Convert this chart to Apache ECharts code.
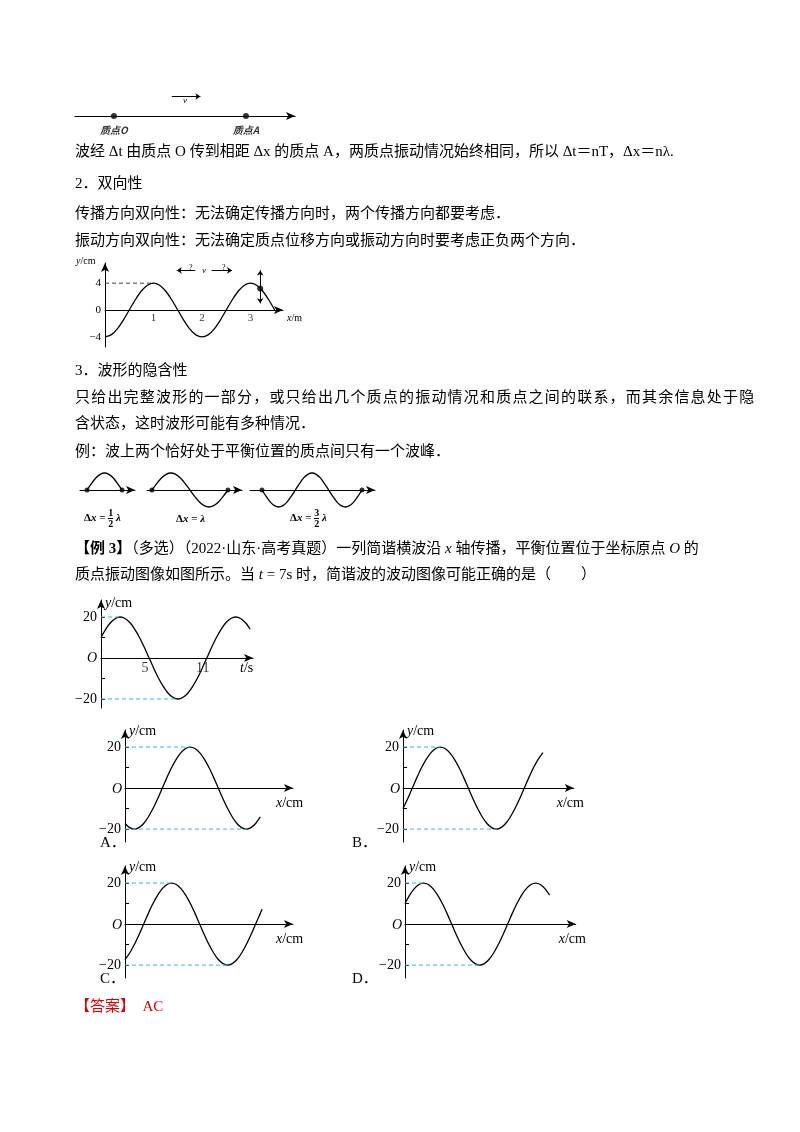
<!DOCTYPE html>
<html><head><meta charset="utf-8">
<script src="https://cdn.jsdelivr.net/npm/echarts@6/dist/echarts.min.js"></script>
<style>
body{margin:0;background:#fff}
#page{position:relative;width:800px;height:1132px;font-family:"Liberation Serif","Noto Sans CJK SC",serif;color:#000}
#chart{position:absolute;left:0;top:0;width:800px;height:1132px}
.t{position:absolute;left:75px;font-size:15px;line-height:20px;white-space:nowrap}
.fr{display:inline-block;vertical-align:middle;text-align:center;font-size:10px;line-height:10px}
.fr span{display:block}
.fr span:first-child{border-bottom:1px solid #000}
.dl{position:absolute;font-size:11px;font-weight:bold;white-space:nowrap}
</style></head>
<body><div id="page">
<div id="chart"></div>
<div class="t" style="top:141px">波经 Δt 由质点 O 传到相距 Δx 的质点 A，两质点振动情况始终相同，所以 Δt＝nT，Δx＝nλ.</div>
<div class="t" style="top:173px">2．双向性</div>
<div class="t" style="top:203px">传播方向双向性：无法确定传播方向时，两个传播方向都要考虑．</div>
<div class="t" style="top:230px">振动方向双向性：无法确定质点位移方向或振动方向时要考虑正负两个方向．</div>
<div class="t" style="top:360px">3．波形的隐含性</div>
<div class="t" style="top:387px;letter-spacing:1.2px">只给出完整波形的一部分，或只给出几个质点的振动情况和质点之间的联系，而其余信息处于隐</div>
<div class="t" style="top:413px">含状态，这时波形可能有多种情况．</div>
<div class="t" style="top:441px">例：波上两个恰好处于平衡位置的质点间只有一个波峰．</div>
<div class="dl" style="left:84px;top:508px">Δ<i>x</i> = <span class="fr"><span>1</span><span>2</span></span> <i>λ</i></div>
<div class="dl" style="left:176px;top:512px">Δ<i>x</i> = <i>λ</i></div>
<div class="dl" style="left:290px;top:508px">Δ<i>x</i> = <span class="fr"><span>3</span><span>2</span></span> <i>λ</i></div>
<div class="t" style="top:538px"><b>【例 3】</b>（多选）（2022·山东·高考真题）一列简谐横波沿 <i>x</i> 轴传播，平衡位置位于坐标原点 <i>O</i> 的</div>
<div class="t" style="top:564px">质点振动图像如图所示。当 <i>t</i> = 7s 时，简谐波的波动图像可能正确的是（　　）</div>
<div class="t" style="top:832px;left:100px">A．</div>
<div class="t" style="top:832px;left:352px">B．</div>
<div class="t" style="top:968px;left:100px">C．</div>
<div class="t" style="top:968px;left:352px">D．</div>
<div class="t" style="top:996px;color:#e00000">【答案】　AC</div>
</div>
<script>
// fig 1: propagation line
var lineDots = [[1.77, 0, '质点O'], [7.77, 0, '质点A']]
// fig 2: wave y/cm vs x/m
var waveX = [0, 0.125, 0.25, 0.375, 0.5, 0.625, 0.75, 0.875, 1, 1.125, 1.25, 1.375, 1.5, 1.625, 1.75, 1.875,
  2, 2.125, 2.25, 2.375, 2.5, 2.625, 2.75, 2.875, 3, 3.125, 3.25, 3.375, 3.5]
var waveY = [-4, -3.7, -2.83, -1.53, 0, 1.53, 2.83, 3.7, 4, 3.7, 2.83, 1.53, 0, -1.53, -2.83, -3.7,
  -4, -3.7, -2.83, -1.53, 0, 1.53, 2.83, 3.7, 4, 3.7, 2.83, 1.53, 0]
var waveDot = [3.2, 3.2]
var waveXTicks = [1, 2, 3]
// fig 3: half-wave examples
var halfX = [0, 0.125, 0.25, 0.375, 0.5, 0.625, 0.75, 0.875, 1]
var halfY = [0, 0.38, 0.71, 0.92, 1, 0.92, 0.71, 0.38, 0]
var fullX = [0, 0.125, 0.25, 0.375, 0.5, 0.625, 0.75, 0.875, 1, 1.125, 1.25, 1.375, 1.5, 1.625, 1.75, 1.875, 2]
var fullY = [0, 0.38, 0.71, 0.92, 1, 0.92, 0.71, 0.38, 0, -0.38, -0.71, -0.92, -1, -0.92, -0.71, -0.38, 0]
var threeX = [0, 0.125, 0.25, 0.375, 0.5, 0.625, 0.75, 0.875, 1, 1.125, 1.25, 1.375, 1.5, 1.625, 1.75, 1.875,
  2, 2.125, 2.25, 2.375, 2.5, 2.625, 2.75, 2.875, 3]
var threeY = [0, -0.38, -0.71, -0.92, -1, -0.92, -0.71, -0.38, 0, 0.38, 0.71, 0.92, 1, 0.92, 0.71, 0.38,
  0, -0.38, -0.71, -0.92, -1, -0.92, -0.71, -0.38, 0]
// fig 4: vibration graph t/s
var vibT = [0, 0.5, 1, 1.5, 2, 2.5, 3, 3.5, 4, 4.5, 5, 5.5, 6, 6.5, 7, 7.5, 8, 8.5, 9, 9.5, 10, 10.5,
  11, 11.5, 12, 12.5, 13, 13.5, 14, 14.5, 15, 15.5]
var vibY = [10, 14.1, 17.3, 19.3, 20, 19.3, 17.3, 14.1, 10, 5.2, 0, -5.2, -10, -14.1, -17.3, -19.3, -20, -19.3,
  -17.3, -14.1, -10, -5.2, 0, 5.2, 10, 14.1, 17.3, 19.3, 20, 19.3, 17.3, 14.1]
var vibTTicks = [5, 11]
// options A-D: x/cm
var optA_X = [0, 0.5, 1, 1.5, 2, 2.5, 3, 3.5, 4, 4.5, 5, 5.5, 6, 6.5, 7, 7.5, 8, 8.5, 9, 9.5, 10, 10.5,
  11, 11.5, 12, 12.5, 13, 13.5, 14, 14.5]
var optA_Y = [-17.3, -19.3, -20, -19.3, -17.3, -14.1, -10, -5.2, 0, 5.2, 10, 14.1, 17.3, 19.3, 20, 19.3, 17.3,
  14.1, 10, 5.2, 0, -5.2, -10, -14.1, -17.3, -19.3, -20, -19.3, -17.3, -14.1]
var optB_X = [0, 0.5, 1, 1.5, 2, 2.5, 3, 3.5, 4, 4.5, 5, 5.5, 6, 6.5, 7, 7.5, 8, 8.5, 9, 9.5, 10, 10.5,
  11, 11.5, 12, 12.5, 13, 13.5, 14, 14.5, 15]
var optB_Y = [-10, -5.2, 0, 5.2, 10, 14.1, 17.3, 19.3, 20, 19.3, 17.3, 14.1, 10, 5.2, 0, -5.2, -10, -14.1,
  -17.3, -19.3, -20, -19.3, -17.3, -14.1, -10, -5.2, 0, 5.2, 10, 14.1, 17.3]
var optC_X = [0, 0.5, 1, 1.5, 2, 2.5, 3, 3.5, 4, 4.5, 5, 5.5, 6, 6.5, 7, 7.5, 8, 8.5, 9, 9.5, 10, 10.5,
  11, 11.5, 12, 12.5, 13, 13.5, 14, 14.5, 14.7]
var optC_Y = [-17.3, -14.1, -10, -5.2, 0, 5.2, 10, 14.1, 17.3, 19.3, 20, 19.3, 17.3, 14.1, 10, 5.2, 0, -5.2,
  -10, -14.1, -17.3, -19.3, -20, -19.3, -17.3, -14.1, -10, -5.2, 0, 5.2, 7.2]
var optD_X = vibT
var optD_Y = vibY
var peakX = {A: [7, 13], B: [4, 10], C: [5, 11], D: [2, 8]}

var chart = echarts.init(document.getElementById('chart'))
var grids = [], xAxes = [], yAxes = [], series = [], texts = []
var black = '#000', cyan = '#39b7d6'
var font = 'Liberation Serif'

function zip(xs, ys) {
  return xs.map(function (x, i) { return [x, ys[i]] })
}
function arrowLine() {
  return {onZero: true, symbol: ['none', 'arrow'], symbolSize: [6, 9], lineStyle: {color: black, width: 1}}
}
function minus(v) { return String(v).replace('-', '−') }
function addGrid(g) {
  var i = grids.length
  grids.push({left: g.left, top: g.top, width: g.width, height: g.height})
  xAxes.push({
    gridIndex: i, type: 'value', min: g.xmin, max: g.xmax,
    axisLine: arrowLine(), splitLine: {show: false}, axisTick: {show: false}, axisLabel: {show: false}
  })
  yAxes.push({
    gridIndex: i, type: 'value', min: g.ymin, max: g.ymax, show: g.yshow !== false,
    axisLine: arrowLine(), splitLine: {show: false},
    axisTick: g.yticks ? {customValues: g.yticks, length: 4, inside: true, lineStyle: {color: black}} : {show: false},
    axisLabel: g.ylabels ? {customValues: g.ylabels, color: black, fontFamily: font, fontSize: g.fs || 13, margin: 4,
      formatter: minus} : {show: false}
  })
  return i
}
// x tick labels that sit just under the zero line
function xLabels(i, vals, size, dx) {
  series.push({type: 'scatter', xAxisIndex: i, yAxisIndex: i, data: vals.map(function (v) { return [v, 0] }),
    symbolSize: 0, silent: true,
    label: {show: true, position: 'bottom', distance: 3, offset: [dx || 0, 0], formatter: function (p) { return p.data[0] },
      color: black, fontFamily: font, fontSize: size}})
}
function curve(i, data) {
  series.push({type: 'line', xAxisIndex: i, yAxisIndex: i, data: data, smooth: 0.3, symbol: 'none',
    lineStyle: {color: black, width: 1.3}, silent: true})
}
function dashed(i, data, color) {
  series.push({type: 'line', xAxisIndex: i, yAxisIndex: i, data: data, symbol: 'none',
    lineStyle: {color: color, width: 1, type: [4, 3]}, silent: true})
}
function text(x, y, str, size, extra) {
  texts.push({type: 'text', x: x, y: y, style: Object.assign({text: str, fontFamily: font, fontSize: size || 14, fill: black}, extra || {})})
}
function axisName(x, y, v, unit, size) {
  texts.push({type: 'text', x: x, y: y, style: {text: '{i|' + v + '}/' + unit, fontFamily: font, fontSize: size, fill: black,
    rich: {i: {fontStyle: 'italic', fontFamily: font, fontSize: size}}}})
}

// fig 1
var g1 = addGrid({left: 75, top: 86, width: 220, height: 30, xmin: 0, xmax: 10, ymin: 0, ymax: 1, yshow: false})
series.push({type: 'scatter', xAxisIndex: g1, yAxisIndex: g1, data: lineDots, symbolSize: 6, itemStyle: {color: black},
  label: {show: true, position: 'bottom', distance: 6, formatter: function (p) { return p.data[2] },
    fontSize: 10, fontWeight: 'bold', fontStyle: 'italic', color: black, fontFamily: 'Noto Sans CJK SC'},
  markLine: {silent: true, symbol: ['none', 'arrow'], symbolSize: 5, label: {show: false},
    lineStyle: {color: black, width: 1, type: 'solid'}, data: [[{coord: [4.4, 0.65]}, {coord: [5.7, 0.65]}]]}})
text(183, 96, 'v', 9, {fontStyle: 'italic'})

// fig 2
var g2 = addGrid({left: 105, top: 263, width: 178, height: 84, xmin: 0, xmax: 3.67, ymin: -5.5, ymax: 7,
  ylabels: [-4, 0, 4], fs: 11})
xLabels(g2, waveXTicks, 11, 0)
curve(g2, zip(waveX, waveY))
dashed(g2, [[0, 4], [1, 4]], '#444')
series.push({type: 'scatter', xAxisIndex: g2, yAxisIndex: g2, data: [waveDot], symbolSize: 6, itemStyle: {color: black},
  markLine: {silent: true, symbol: ['arrow', 'arrow'], symbolSize: 5, lineStyle: {color: black, width: 1, type: 'solid'},
    label: {show: false},
    data: [[{coord: [3.2, 5.9]}, {coord: [3.2, 1]}]]}})
series.push({type: 'line', xAxisIndex: g2, yAxisIndex: g2, data: [], symbol: 'none',
  markLine: {silent: true, symbol: ['none', 'arrow'], symbolSize: 5, lineStyle: {color: black, width: 1, type: 'solid'},
    label: {show: false},
    data: [[{coord: [1.86, 5.9]}, {coord: [1.48, 5.9]}], [{coord: [2.2, 5.9]}, {coord: [2.62, 5.9]}]]}})
text(189, 264, '?', 8); text(222, 264, '?', 8); text(202, 266, 'v', 9, {fontStyle: 'italic'})
axisName(76, 256, 'y', 'cm', 10)
axisName(287, 313, 'x', 'm', 10)

// fig 3
var g3a = addGrid({left: 80, top: 469.6, width: 55, height: 40.8, xmin: -0.2, xmax: 1.37, ymin: -1.2, ymax: 1.2, yshow: false})
curve(g3a, zip(halfX, halfY))
var g3b = addGrid({left: 147, top: 469.6, width: 95, height: 40.8, xmin: -0.13, xmax: 2.37, ymin: -1.2, ymax: 1.2, yshow: false})
curve(g3b, zip(fullX, fullY))
var g3c = addGrid({left: 250, top: 469.6, width: 125, height: 40.8, xmin: -0.36, xmax: 3.39, ymin: -1.2, ymax: 1.2, yshow: false})
curve(g3c, zip(threeX, threeY))
;[[g3a, 1], [g3b, 2], [g3c, 3]].forEach(function (p) {
  series.push({type: 'scatter', xAxisIndex: p[0], yAxisIndex: p[0], data: [[0, 0], [p[1], 0]], symbolSize: 5, itemStyle: {color: black}})
})

// fig 4 vibration graph
var g4 = addGrid({left: 101, top: 600, width: 152, height: 108, xmin: 0, xmax: 15.8, ymin: -24.4, ymax: 28.3,
  ylabels: [-20, 20], yticks: [-20, -10, 10, 20], fs: 14})
xLabels(g4, vibTTicks, 14, -4)
curve(g4, zip(vibT, vibY))
dashed(g4, [[0, 20], [2, 20]], cyan)
dashed(g4, [[0, -20], [8, -20]], cyan)
axisName(105, 596, 'y', 'cm', 14)
axisName(240, 661, 't', 's', 14)
text(87, 651, 'O', 14, {fontStyle: 'italic'})

// options
var opts = [
  ['A', optA_X, optA_Y, 125, 730, 18],
  ['B', optB_X, optB_Y, 403, 730, 18.3],
  ['C', optC_X, optC_Y, 125, 866, 18],
  ['D', optD_X, optD_Y, 405, 866, 18.3]
]
opts.forEach(function (o) {
  var k = 9.33
  var gi = addGrid({left: o[3], top: o[4], width: o[5] * k, height: 112, xmin: 0, xmax: o[5], ymin: -26.3, ymax: 28.3,
    ylabels: [-20, 20], yticks: [-20, -10, 10, 20], fs: 14})
  curve(gi, zip(o[1], o[2]))
  dashed(gi, [[0, 20], [peakX[o[0]][0], 20]], cyan)
  dashed(gi, [[0, -20], [peakX[o[0]][1], -20]], cyan)
  axisName(o[3] + 4, o[4] - 6, 'y', 'cm', 14)
  axisName(o[3] + o[5] * k - 17, o[4] + 66, 'x', 'cm', 14)
  text(o[3] - 13, o[4] + 52, 'O', 14, {fontStyle: 'italic'})
})

chart.setOption({
  animation: false,
  grid: grids, xAxis: xAxes, yAxis: yAxes, series: series,
  graphic: texts
})
</script>
</body></html>
